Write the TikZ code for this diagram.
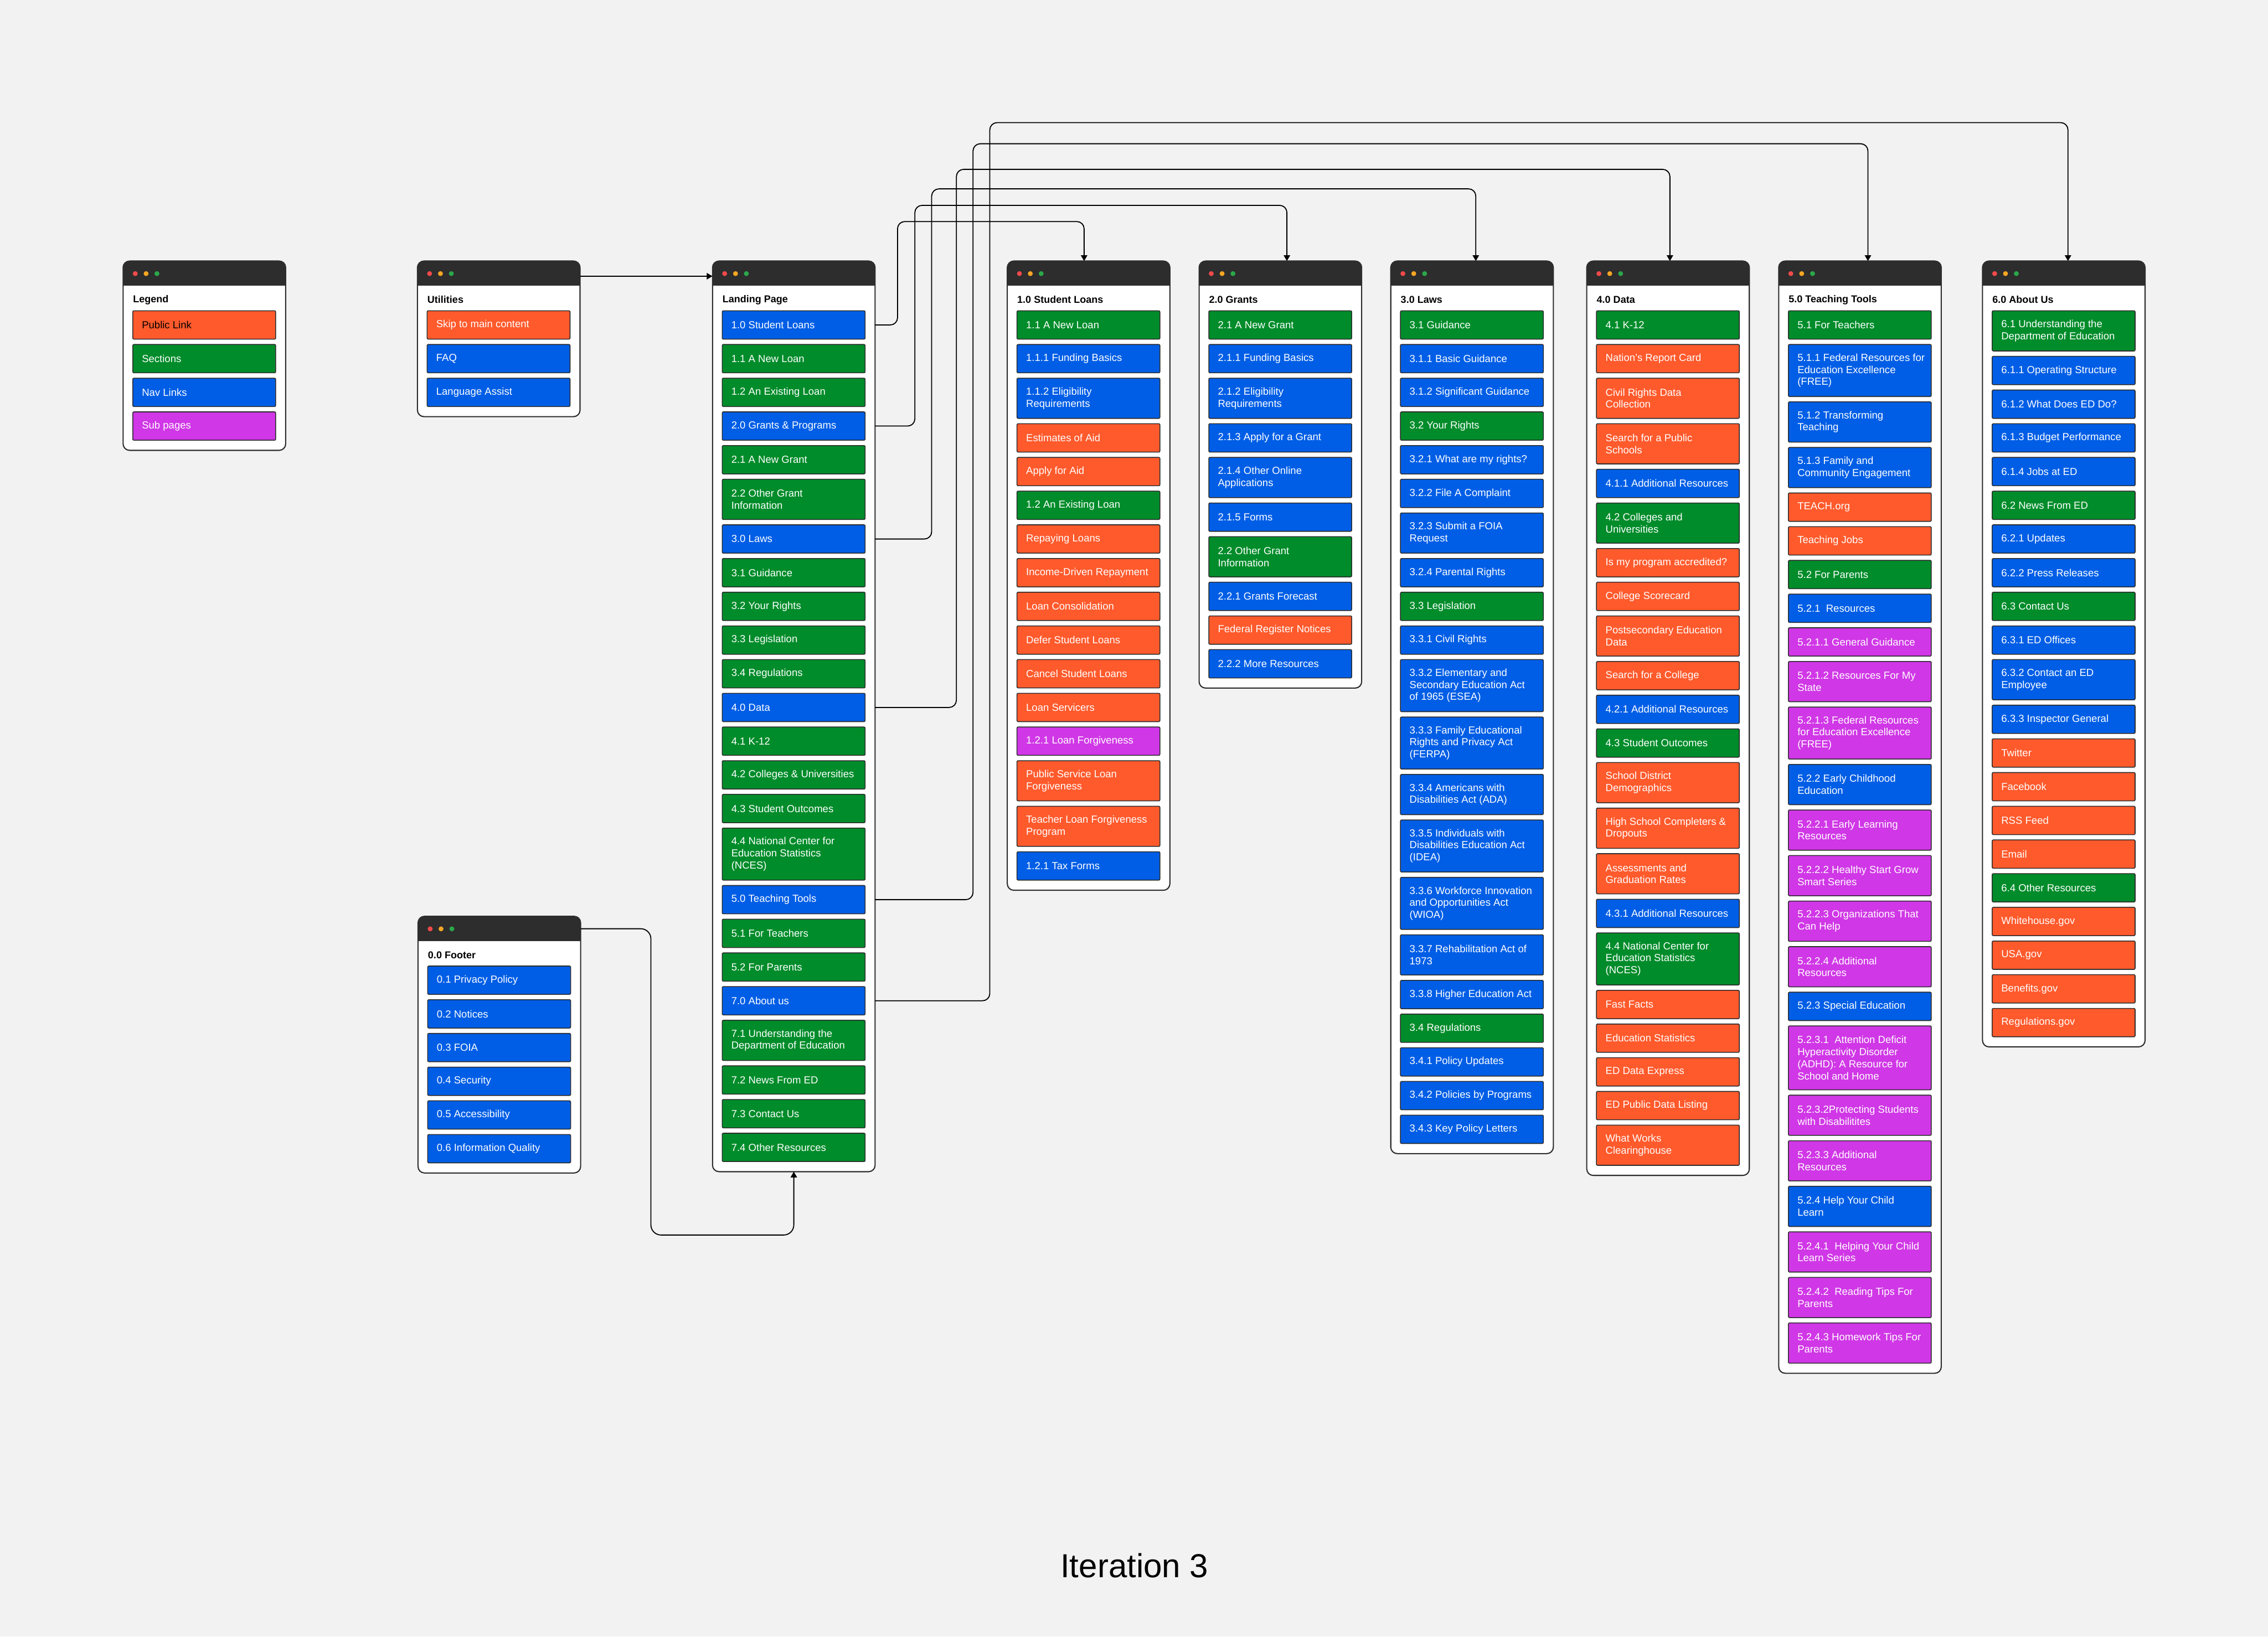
\documentclass[tikz,border=0pt]{standalone}
\usepackage{fontspec}
\setmainfont{Liberation Sans}
\usetikzlibrary{arrows.meta,fit,backgrounds}
\definecolor{bgc}{HTML}{F2F2F2}
\definecolor{hdr}{HTML}{2D2D2D}
\definecolor{cor}{HTML}{FF5A2C}
\definecolor{cgr}{HTML}{008C2A}
\definecolor{cbl}{HTML}{005EE6}
\definecolor{cpu}{HTML}{D037E6}
\definecolor{dred}{HTML}{F04A4A}
\definecolor{dyel}{HTML}{F5A623}
\definecolor{dgrn}{HTML}{2BA84A}
\tikzset{
  ibox/.style={draw=hdr, line width=0.6pt, minimum width=98.8pt, inner sep=0pt, outer sep=0pt, rounded corners=0.8pt},
  itxt/.style={text=white, font=\fontsize{7.1}{8.3}\selectfont, align=left, inner sep=0pt},
  ttl/.style={font=\bfseries\fontsize{6.9}{8}\selectfont, inner sep=0pt, text=black},
  h1/.style={minimum height=19.6pt},
  h2/.style={minimum height=27.8pt},
  h3/.style={minimum height=36pt},
  h4/.style={minimum height=44.2pt},
  conn/.style={draw=black, line width=0.7pt, -{Triangle[length=4pt,width=4.4pt]}},
}
\newcommand\wbegin[4]{%
  \coordinate (#1tl) at (#2,#3);
  \node[ttl, anchor=west] (#1ti) at ([xshift=6.7pt,yshift=-26.8pt]#1tl) {#4};
  \node[inner sep=0pt, outer sep=0pt, minimum size=0pt] (#1i0) at ([xshift=6.7pt,yshift=-30.7pt]#1tl) {};
}
\newcommand\itm[5]{%
  \node[ibox, fill=#3, #4, anchor=north west] (#2) at ([yshift=-3.7pt]#1.south west) {};
  \node[itxt, anchor=west] (#2t) at ([xshift=6.1pt]#2.west) {#5};
}
\newcommand\wend[2]{%
  \coordinate (#1br) at ([xshift=6.9pt,yshift=-7pt]#2.south east);
  \begin{scope}[on background layer]
    \node[fit=(#1tl)(#1br), inner sep=0pt, outer sep=0pt, fill=white, rounded corners=4.5pt] (#1) {};
    \begin{scope}
      \clip[rounded corners=4.5pt] (#1.north west) rectangle (#1.south east);
      \fill[hdr] (#1.north west) rectangle ([yshift=-17.2pt]#1.north east);
    \end{scope}
    \draw[hdr, line width=0.8pt, rounded corners=4.5pt] (#1.north west) rectangle (#1.south east);
  \end{scope}
  \fill[dred] ([xshift=8.4pt,yshift=-8.7pt]#1.north west) circle (1.7pt);
  \fill[dyel] ([xshift=15.9pt,yshift=-8.7pt]#1.north west) circle (1.7pt);
  \fill[dgrn] ([xshift=23.4pt,yshift=-8.7pt]#1.north west) circle (1.7pt);
}
\begin{document}
\begin{tikzpicture}[x=1pt,y=-1pt]
\useasboundingbox (0,0) rectangle (1568,1131.6);
\begin{scope}[on background layer]
  \fill[bgc] (0,0) rectangle (1568,1131.6);
\end{scope}

% Legend
\wbegin{lg}{85.1}{180.5}{Legend}
\itm{lgi0}{lg1}{cor}{h1}{\textcolor{black}{Public Link}}
\itm{lg1}{lg2}{cgr}{h1}{Sections}
\itm{lg2}{lg3}{cbl}{h1}{Nav Links}
\itm{lg3}{lg4}{cpu}{h1}{Sub pages}
\wend{lg}{lg4}

% Utilities
\wbegin{ut}{288.6}{180.5}{Utilities}
\itm{uti0}{ut1}{cor}{h1}{Skip to main content}
\itm{ut1}{ut2}{cbl}{h1}{FAQ}
\itm{ut2}{ut3}{cbl}{h1}{Language Assist}
\wend{ut}{ut3}

% Footer
\wbegin{ft}{289.0}{633.6}{0.0 Footer}
\itm{fti0}{ft1}{cbl}{h1}{0.1 Privacy Policy}
\itm{ft1}{ft2}{cbl}{h1}{0.2 Notices}
\itm{ft2}{ft3}{cbl}{h1}{0.3 FOIA}
\itm{ft3}{ft4}{cbl}{h1}{0.4 Security}
\itm{ft4}{ft5}{cbl}{h1}{0.5 Accessibility}
\itm{ft5}{ft6}{cbl}{h1}{0.6 Information Quality}
\wend{ft}{ft6}

% Landing page
\wbegin{lp}{492.6}{180.5}{Landing Page}
\itm{lpi0}{lp1}{cbl}{h1}{1.0 Student Loans}
\itm{lp1}{lp2}{cgr}{h1}{1.1 A New Loan}
\itm{lp2}{lp3}{cgr}{h1}{1.2 An Existing Loan}
\itm{lp3}{lp4}{cbl}{h1}{2.0 Grants \& Programs}
\itm{lp4}{lp5}{cgr}{h1}{2.1 A New Grant}
\itm{lp5}{lp6}{cgr}{h2}{2.2 Other Grant\\Information}
\itm{lp6}{lp7}{cbl}{h1}{3.0 Laws}
\itm{lp7}{lp8}{cgr}{h1}{3.1 Guidance}
\itm{lp8}{lp9}{cgr}{h1}{3.2 Your Rights}
\itm{lp9}{lp10}{cgr}{h1}{3.3 Legislation}
\itm{lp10}{lp11}{cgr}{h1}{3.4 Regulations}
\itm{lp11}{lp12}{cbl}{h1}{4.0 Data}
\itm{lp12}{lp13}{cgr}{h1}{4.1 K-12}
\itm{lp13}{lp14}{cgr}{h1}{4.2 Colleges \& Universities}
\itm{lp14}{lp15}{cgr}{h1}{4.3 Student Outcomes}
\itm{lp15}{lp16}{cgr}{h3}{4.4 National Center for\\Education Statistics\\(NCES)}
\itm{lp16}{lp17}{cbl}{h1}{5.0 Teaching Tools}
\itm{lp17}{lp18}{cgr}{h1}{5.1 For Teachers}
\itm{lp18}{lp19}{cgr}{h1}{5.2 For Parents}
\itm{lp19}{lp20}{cbl}{h1}{7.0 About us}
\itm{lp20}{lp21}{cgr}{h2}{7.1 Understanding the\\Department of Education}
\itm{lp21}{lp22}{cgr}{h1}{7.2 News From ED}
\itm{lp22}{lp23}{cgr}{h1}{7.3 Contact Us}
\itm{lp23}{lp24}{cgr}{h1}{7.4 Other Resources}
\wend{lp}{lp24}

% 1.0 Student Loans
\wbegin{sl}{696.4}{180.5}{1.0 Student Loans}
\itm{sli0}{sl1}{cgr}{h1}{1.1 A New Loan}
\itm{sl1}{sl2}{cbl}{h1}{1.1.1 Funding Basics}
\itm{sl2}{sl3}{cbl}{h2}{1.1.2 Eligibility\\Requirements}
\itm{sl3}{sl4}{cor}{h1}{Estimates of Aid}
\itm{sl4}{sl5}{cor}{h1}{Apply for Aid}
\itm{sl5}{sl6}{cgr}{h1}{1.2 An Existing Loan}
\itm{sl6}{sl7}{cor}{h1}{Repaying Loans}
\itm{sl7}{sl8}{cor}{h1}{Income-Driven Repayment}
\itm{sl8}{sl9}{cor}{h1}{Loan Consolidation}
\itm{sl9}{sl10}{cor}{h1}{Defer Student Loans}
\itm{sl10}{sl11}{cor}{h1}{Cancel Student Loans}
\itm{sl11}{sl12}{cor}{h1}{Loan Servicers}
\itm{sl12}{sl13}{cpu}{h1}{1.2.1 Loan Forgiveness}
\itm{sl13}{sl14}{cor}{h2}{Public Service Loan\\Forgiveness}
\itm{sl14}{sl15}{cor}{h2}{Teacher Loan Forgiveness\\Program}
\itm{sl15}{sl16}{cbl}{h1}{1.2.1 Tax Forms}
\wend{sl}{sl16}

% 2.0 Grants
\wbegin{gr}{829.0}{180.5}{2.0 Grants}
\itm{gri0}{gr1}{cgr}{h1}{2.1 A New Grant}
\itm{gr1}{gr2}{cbl}{h1}{2.1.1 Funding Basics}
\itm{gr2}{gr3}{cbl}{h2}{2.1.2 Eligibility\\Requirements}
\itm{gr3}{gr4}{cbl}{h1}{2.1.3 Apply for a Grant}
\itm{gr4}{gr5}{cbl}{h2}{2.1.4 Other Online\\Applications}
\itm{gr5}{gr6}{cbl}{h1}{2.1.5 Forms}
\itm{gr6}{gr7}{cgr}{h2}{2.2 Other Grant\\Information}
\itm{gr7}{gr8}{cbl}{h1}{2.2.1 Grants Forecast}
\itm{gr8}{gr9}{cor}{h1}{Federal Register Notices}
\itm{gr9}{gr10}{cbl}{h1}{2.2.2 More Resources}
\wend{gr}{gr10}

% 3.0 Laws
\wbegin{lw}{961.5}{180.5}{3.0 Laws}
\itm{lwi0}{lw1}{cgr}{h1}{3.1 Guidance}
\itm{lw1}{lw2}{cbl}{h1}{3.1.1 Basic Guidance}
\itm{lw2}{lw3}{cbl}{h1}{3.1.2 Significant Guidance}
\itm{lw3}{lw4}{cgr}{h1}{3.2 Your Rights}
\itm{lw4}{lw5}{cbl}{h1}{3.2.1 What are my rights?}
\itm{lw5}{lw6}{cbl}{h1}{3.2.2 File A Complaint}
\itm{lw6}{lw7}{cbl}{h2}{3.2.3 Submit a FOIA\\Request}
\itm{lw7}{lw8}{cbl}{h1}{3.2.4 Parental Rights}
\itm{lw8}{lw9}{cgr}{h1}{3.3 Legislation}
\itm{lw9}{lw10}{cbl}{h1}{3.3.1 Civil Rights}
\itm{lw10}{lw11}{cbl}{h3}{3.3.2 Elementary and\\Secondary Education Act\\of 1965 (ESEA)}
\itm{lw11}{lw12}{cbl}{h3}{3.3.3 Family Educational\\Rights and Privacy Act\\(FERPA)}
\itm{lw12}{lw13}{cbl}{h2}{3.3.4 Americans with\\Disabilities Act (ADA)}
\itm{lw13}{lw14}{cbl}{h3}{3.3.5 Individuals with\\Disabilities Education Act\\(IDEA)}
\itm{lw14}{lw15}{cbl}{h3}{3.3.6 Workforce Innovation\\and Opportunities Act\\(WIOA)}
\itm{lw15}{lw16}{cbl}{h2}{3.3.7 Rehabilitation Act of\\1973}
\itm{lw16}{lw17}{cbl}{h1}{3.3.8 Higher Education Act}
\itm{lw17}{lw18}{cgr}{h1}{3.4 Regulations}
\itm{lw18}{lw19}{cbl}{h1}{3.4.1 Policy Updates}
\itm{lw19}{lw20}{cbl}{h1}{3.4.2 Policies by Programs}
\itm{lw20}{lw21}{cbl}{h1}{3.4.3 Key Policy Letters}
\wend{lw}{lw21}

% 4.0 Data
\wbegin{dt}{1097.0}{180.5}{4.0 Data}
\itm{dti0}{dt1}{cgr}{h1}{4.1 K-12}
\itm{dt1}{dt2}{cor}{h1}{Nation’s Report Card}
\itm{dt2}{dt3}{cor}{h2}{Civil Rights Data\\Collection}
\itm{dt3}{dt4}{cor}{h2}{Search for a Public\\Schools}
\itm{dt4}{dt5}{cbl}{h1}{4.1.1 Additional Resources}
\itm{dt5}{dt6}{cgr}{h2}{4.2 Colleges and\\Universities}
\itm{dt6}{dt7}{cor}{h1}{Is my program accredited?}
\itm{dt7}{dt8}{cor}{h1}{College Scorecard}
\itm{dt8}{dt9}{cor}{h2}{Postsecondary Education\\Data}
\itm{dt9}{dt10}{cor}{h1}{Search for a College}
\itm{dt10}{dt11}{cbl}{h1}{4.2.1 Additional Resources}
\itm{dt11}{dt12}{cgr}{h1}{4.3 Student Outcomes}
\itm{dt12}{dt13}{cor}{h2}{School District\\Demographics}
\itm{dt13}{dt14}{cor}{h2}{High School Completers \&\\Dropouts}
\itm{dt14}{dt15}{cor}{h2}{Assessments and\\Graduation Rates}
\itm{dt15}{dt16}{cbl}{h1}{4.3.1 Additional Resources}
\itm{dt16}{dt17}{cgr}{h3}{4.4 National Center for\\Education Statistics\\(NCES)}
\itm{dt17}{dt18}{cor}{h1}{Fast Facts}
\itm{dt18}{dt19}{cor}{h1}{Education Statistics}
\itm{dt19}{dt20}{cor}{h1}{ED Data Express}
\itm{dt20}{dt21}{cor}{h1}{ED Public Data Listing}
\itm{dt21}{dt22}{cor}{h2}{What Works\\Clearinghouse}
\wend{dt}{dt22}

% 5.0 Teaching Tools
\wbegin{tt}{1229.7}{180.5}{5.0 Teaching Tools}
\itm{tti0}{tt1}{cgr}{h1}{5.1 For Teachers}
\itm{tt1}{tt2}{cbl}{h3}{5.1.1 Federal Resources for\\Education Excellence\\(FREE)}
\itm{tt2}{tt3}{cbl}{h2}{5.1.2 Transforming\\Teaching}
\itm{tt3}{tt4}{cbl}{h2}{5.1.3 Family and\\Community Engagement}
\itm{tt4}{tt5}{cor}{h1}{TEACH.org}
\itm{tt5}{tt6}{cor}{h1}{Teaching Jobs}
\itm{tt6}{tt7}{cgr}{h1}{5.2 For Parents}
\itm{tt7}{tt8}{cbl}{h1}{5.2.1\ \ Resources}
\itm{tt8}{tt9}{cpu}{h1}{5.2.1.1 General Guidance}
\itm{tt9}{tt10}{cpu}{h2}{5.2.1.2 Resources For My\\State}
\itm{tt10}{tt11}{cpu}{h3}{5.2.1.3 Federal Resources\\for Education Excellence\\(FREE)}
\itm{tt11}{tt12}{cbl}{h2}{5.2.2 Early Childhood\\Education}
\itm{tt12}{tt13}{cpu}{h2}{5.2.2.1 Early Learning\\Resources}
\itm{tt13}{tt14}{cpu}{h2}{5.2.2.2 Healthy Start Grow\\Smart Series}
\itm{tt14}{tt15}{cpu}{h2}{5.2.2.3 Organizations That\\Can Help}
\itm{tt15}{tt16}{cpu}{h2}{5.2.2.4 Additional\\Resources}
\itm{tt16}{tt17}{cbl}{h1}{5.2.3 Special Education}
\itm{tt17}{tt18}{cpu}{h4}{5.2.3.1\ \ Attention Deficit\\Hyperactivity Disorder\\(ADHD): A Resource for\\School and Home}
\itm{tt18}{tt19}{cpu}{h2}{5.2.3.2Protecting Students\\with Disabilitites}
\itm{tt19}{tt20}{cpu}{h2}{5.2.3.3 Additional\\Resources}
\itm{tt20}{tt21}{cbl}{h2}{5.2.4 Help Your Child\\Learn}
\itm{tt21}{tt22}{cpu}{h2}{5.2.4.1\ \ Helping Your Child\\Learn Series}
\itm{tt22}{tt23}{cpu}{h2}{5.2.4.2\ \ Reading Tips For\\Parents}
\itm{tt23}{tt24}{cpu}{h2}{5.2.4.3 Homework Tips For\\Parents}
\wend{tt}{tt24}

% 6.0 About Us
\wbegin{ab}{1370.6}{180.5}{6.0 About Us}
\itm{abi0}{ab1}{cgr}{h2}{6.1 Understanding the\\Department of Education}
\itm{ab1}{ab2}{cbl}{h1}{6.1.1 Operating Structure}
\itm{ab2}{ab3}{cbl}{h1}{6.1.2 What Does ED Do?}
\itm{ab3}{ab4}{cbl}{h1}{6.1.3 Budget Performance}
\itm{ab4}{ab5}{cbl}{h1}{6.1.4 Jobs at ED}
\itm{ab5}{ab6}{cgr}{h1}{6.2 News From ED}
\itm{ab6}{ab7}{cbl}{h1}{6.2.1 Updates}
\itm{ab7}{ab8}{cbl}{h1}{6.2.2 Press Releases}
\itm{ab8}{ab9}{cgr}{h1}{6.3 Contact Us}
\itm{ab9}{ab10}{cbl}{h1}{6.3.1 ED Offices}
\itm{ab10}{ab11}{cbl}{h2}{6.3.2 Contact an ED\\Employee}
\itm{ab11}{ab12}{cbl}{h1}{6.3.3 Inspector General}
\itm{ab12}{ab13}{cor}{h1}{Twitter}
\itm{ab13}{ab14}{cor}{h1}{Facebook}
\itm{ab14}{ab15}{cor}{h1}{RSS Feed}
\itm{ab15}{ab16}{cor}{h1}{Email}
\itm{ab16}{ab17}{cgr}{h1}{6.4 Other Resources}
\itm{ab17}{ab18}{cor}{h1}{Whitehouse.gov}
\itm{ab18}{ab19}{cor}{h1}{USA.gov}
\itm{ab19}{ab20}{cor}{h1}{Benefits.gov}
\itm{ab20}{ab21}{cor}{h1}{Regulations.gov}
\wend{ab}{ab21}

% Connectors
\coordinate (ua) at ([yshift=-10.5pt]ut.north east);
\draw[conn] (ua) -- (ua -| lp.west);

\coordinate (fs) at ([yshift=-8.6pt]ft.north east);
\coordinate (fc) at (450,854);
\draw[conn, rounded corners=7pt] (fs) -| (fc) -| (lp.south);

\coordinate (v1) at (620.5,153.2);
\coordinate (v2) at (632.5,142.0);
\coordinate (v3) at (644.1,130.6);
\coordinate (v4) at (661.2,117.1);
\coordinate (v5) at (672.7,99.4);
\coordinate (v6) at (684.3,84.8);
\coordinate (slin) at ([xshift=53.1pt]sl.north west);
\coordinate (grin) at ([xshift=60.7pt]gr.north west);
\coordinate (lwin) at ([xshift=58.8pt]lw.north west);
\coordinate (dtin) at ([xshift=57.5pt]dt.north west);
\coordinate (ttin) at ([xshift=61.7pt]tt.north west);
\coordinate (abin) at ([xshift=59.1pt]ab.north west);
\draw[conn, rounded corners=5pt] (lp1 -| lp.east) -| (v1) -| (slin);
\draw[conn, rounded corners=5pt] (lp4 -| lp.east) -| (v2) -| (grin);
\draw[conn, rounded corners=5pt] (lp7 -| lp.east) -| (v3) -| (lwin);
\draw[conn, rounded corners=5pt] (lp12 -| lp.east) -| (v4) -| (dtin);
\draw[conn, rounded corners=5pt] (lp17 -| lp.east) -| (v5) -| (ttin);
\draw[conn, rounded corners=5pt] (lp20 -| lp.east) -| (v6) -| (abin);

\node[font=\fontsize{23}{28}\selectfont, anchor=base, inner sep=0pt] (iter) at (784.3,1090.8) {Iteration 3};
\end{tikzpicture}
\end{document}
